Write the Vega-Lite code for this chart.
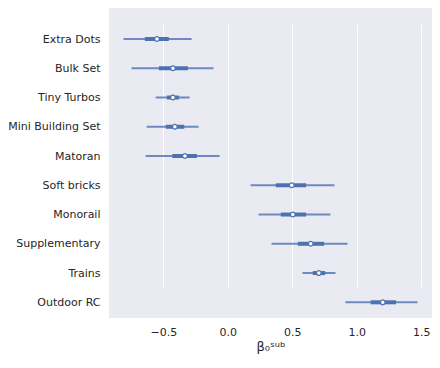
{
  "$schema": "https://vega.github.io/schema/vega-lite/v6.json",
  "width": 323,
  "height": 310,
  "autosize": {"type": "none"},
  "padding": {"left": 109, "top": 8, "right": 8, "bottom": 50},
  "background": "white",
  "config": {
    "view": {"fill": "#EAEAF2", "stroke": null},
    "font": "DejaVu Sans"
  },
  "data": {
    "values": [
      {"label": "Extra Dots", "lo": -0.809, "hi": -0.281, "q1": -0.644, "q3": -0.458, "mean": -0.550},
      {"label": "Bulk Set", "lo": -0.747, "hi": -0.111, "q1": -0.535, "q3": -0.310, "mean": -0.426},
      {"label": "Tiny Turbos", "lo": -0.560, "hi": -0.297, "q1": -0.473, "q3": -0.380, "mean": -0.426},
      {"label": "Mini Building Set", "lo": -0.630, "hi": -0.227, "q1": -0.481, "q3": -0.338, "mean": -0.411},
      {"label": "Matoran", "lo": -0.638, "hi": -0.064, "q1": -0.431, "q3": -0.240, "mean": -0.333},
      {"label": "Soft bricks", "lo": 0.176, "hi": 0.827, "q1": 0.372, "q3": 0.607, "mean": 0.496},
      {"label": "Monorail", "lo": 0.238, "hi": 0.796, "q1": 0.411, "q3": 0.607, "mean": 0.504},
      {"label": "Supplementary", "lo": 0.339, "hi": 0.928, "q1": 0.543, "q3": 0.747, "mean": 0.643},
      {"label": "Trains", "lo": 0.579, "hi": 0.835, "q1": 0.659, "q3": 0.755, "mean": 0.706},
      {"label": "Outdoor RC", "lo": 0.912, "hi": 1.471, "q1": 1.109, "q3": 1.305, "mean": 1.202}
    ]
  },
  "encoding": {
    "y": {
      "field": "label",
      "type": "nominal",
      "sort": null,
      "scale": {"type": "point", "range": [31, 294.3], "padding": 0},
      "axis": {
        "title": null,
        "domain": false,
        "ticks": false,
        "grid": false,
        "labelFontSize": 11,
        "labelColor": "#262626",
        "labelPadding": 9
      }
    }
  },
  "layer": [
    {
      "mark": {"type": "rule", "strokeWidth": 2, "color": "#4C72B0", "opacity": 0.8},
      "encoding": {
        "x": {
          "field": "lo",
          "type": "quantitative",
          "scale": {"domain": [-0.922, 1.584], "nice": false, "zero": false},
          "axis": {
            "title": "β₀ˢᵘᵇ",
            "titleFontSize": 13,
            "titleFontWeight": "normal",
            "titleColor": "#262626",
            "titlePadding": 3,
            "values": [-0.5, 0, 0.5, 1, 1.5],
            "format": ".1f",
            "domain": false,
            "ticks": false,
            "grid": true,
            "gridColor": "white",
            "gridWidth": 1,
            "labelFontSize": 11,
            "labelColor": "#262626",
            "labelPadding": 8
          }
        },
        "x2": {"field": "hi"}
      }
    },
    {
      "mark": {"type": "rule", "strokeWidth": 4, "color": "#4C72B0"},
      "encoding": {
        "x": {"field": "q1", "type": "quantitative"},
        "x2": {"field": "q3"}
      }
    },
    {
      "mark": {"type": "point", "shape": "circle", "filled": false, "fill": "white", "fillOpacity": 1, "stroke": "#4C72B0", "strokeWidth": 1.2, "size": 22, "opacity": 1},
      "encoding": {
        "x": {"field": "mean", "type": "quantitative"}
      }
    }
  ]
}
